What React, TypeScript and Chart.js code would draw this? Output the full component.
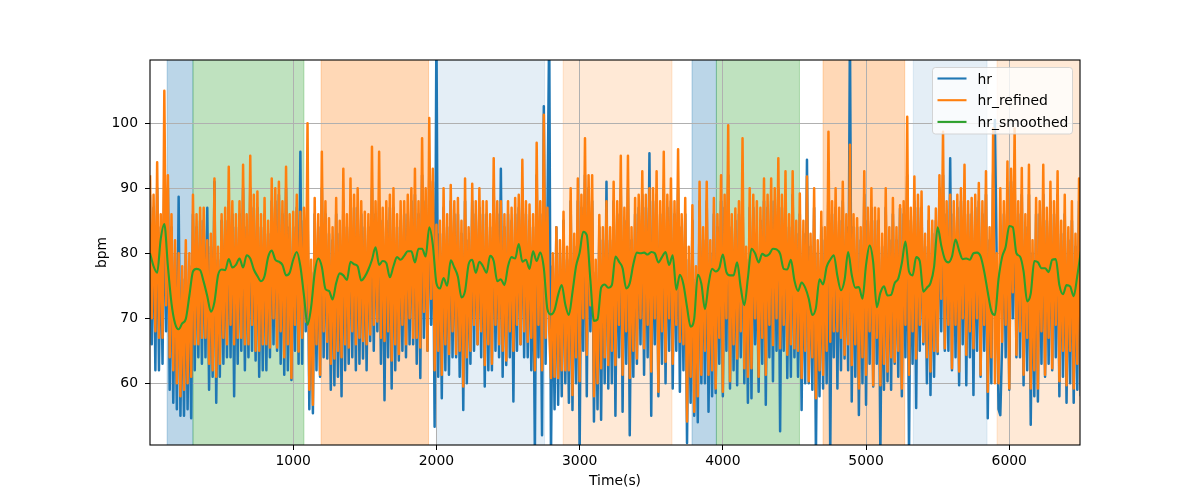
import React, { useEffect, useRef } from "react";
import { Chart, registerables } from "chart.js";

Chart.register(...registerables);

// Sampling intervals (seconds)
const SAMPLE_STEP_S = 12.5;
const SMOOTH_STEP_S = 25;

// hr (raw), bpm, one value every 12.5 s starting at t = 0
const hr = [
  89, 66, 87, 62, 90, 62, 84, 63,
  92, 68, 90, 59, 84, 57, 80, 56,
  88.7, 55, 76, 55, 80, 56, 78, 54.6,
  86, 62, 84, 64, 85, 63, 85, 64,
  87, 59, 81, 61, 91, 57, 79, 61,
  85, 63, 85, 64, 88, 64, 86, 58,
  84, 63, 86, 65, 90, 62, 84, 64,
  90, 65, 87, 63.5, 87, 61, 84, 62,
  86, 62, 83, 64, 88, 66, 88, 65,
  89, 63, 86, 61.3, 90, 62, 84, 60.5,
  84, 65, 87, 63, 95.6, 63, 85, 68,
  88, 56, 77, 55.4, 86, 62, 84, 61,
  90, 64, 86, 63.8, 83, 59, 82, 59.7,
  86, 61, 83, 58, 88, 62, 84, 63,
  88, 64, 87, 62, 87, 63, 86, 63.8,
  84, 62, 84, 66.5, 90, 65, 86, 68,
  88, 63, 85, 57.4, 85, 64, 87, 59.2,
  87, 62, 84, 63.5, 85, 65, 86, 64,
  86, 66, 88, 66, 89, 63, 86, 60.8,
  92, 67, 88, 65, 92, 69, 91, 53.3,
  115, 61, 83, 57.7, 87, 62, 84, 61.3,
  88, 64, 86, 64, 86, 61, 83, 55.9,
  88, 60, 82, 63, 88, 65, 86, 66,
  87, 64, 86, 59.5, 86, 62, 84, 62,
  90, 65, 86, 64, 93, 61, 84, 62.8,
  86, 64, 85, 57.2, 86, 65, 87, 66,
  90, 64, 86, 64, 85, 62, 84, 49,
  92, 64, 86, 52, 102.6, 63, 85, 115,
  49, 78, 56, 84, 56.7, 80, 58, 85,
  60, 79, 57, 88, 55.9, 81, 60, 88,
  49, 87, 65, 92, 58, 90, 68, 88,
  54.1, 77, 56, 84, 54.4, 82, 60, 91,
  59.2, 82, 60, 88, 55, 86, 64, 90,
  55.6, 85, 63, 90, 52, 82, 61, 86,
  63, 87, 66, 89, 61.3, 87, 64, 95.4,
  55, 88, 66, 89, 58, 86, 63, 90,
  60, 87, 65, 88, 59.2, 86, 65, 90,
  58.7, 84, 62, 86, 50.8, 79, 57, 85,
  55, 76, 54, 88, 60, 82, 60, 88,
  55.6, 80, 58, 86, 58.5, 84, 63, 88,
  58, 87, 65, 92, 59.2, 84, 62, 85,
  59.7, 86, 64, 90, 60, 79, 57, 87,
  57.7, 87, 66, 80, 58.7, 85, 63, 88,
  56.7, 87, 64, 88, 60.3, 88, 65, 90,
  52.6, 87, 65, 89, 60.8, 84, 61, 89,
  64, 83, 61, 86, 55.9, 83, 60, 94.4,
  60, 81, 59, 87, 49, 80, 58, 84,
  59.2, 82, 60, 92, 49, 86, 64, 87,
  59.2, 85, 62, 88, 63.8, 84, 62, 115,
  57.2, 84, 61, 84, 55.1, 82, 60, 89,
  56.7, 85, 63, 87, 59.5, 85, 63, 85,
  49, 81, 59, 87, 60.3, 82, 59, 86,
  63, 82, 61, 86.9, 58, 86, 64, 92,
  49, 85, 63, 88, 56.2, 87, 65, 87,
  66, 81, 60, 85, 58.2, 83, 61, 85,
  64.5, 90, 68, 92, 65, 86, 65, 94.6,
  62, 86, 64, 87, 59.7, 88, 66, 89,
  59.7, 86, 64, 86, 58.2, 87, 65, 88,
  61, 86, 65, 89, 54.6, 82, 60, 92,
  100.5, 78, 56, 55.1, 66, 86, 64, 90,
  59, 91, 70, 92, 64, 86, 64, 89,
  59.7, 84, 62, 89, 53.6, 80, 58, 86,
  57.2, 86, 63, 89, 61, 85, 63, 88,
  62, 86, 64, 89, 58, 83, 61, 86,
  57, 82, 60, 85, 57, 81, 59, 88,
  58,
];

// hr_refined, bpm, same time grid as hr
const hrRefined = [
  92, 70, 89, 68, 94, 67, 86, 67,
  105, 72, 92, 64, 86, 62, 82, 60,
  80, 58, 78, 59, 82, 60, 80, 61,
  89, 66, 86, 66, 87, 67, 87, 67,
  82, 63, 83, 62, 91.5, 61, 81, 63,
  86, 67, 87, 66, 93.3, 69, 88, 66,
  86, 67, 88, 67, 93.6, 66, 86, 66,
  95, 69, 89, 65, 89.5, 65, 86, 66,
  88.5, 66, 85, 65.5, 91.5, 70, 90, 65.5,
  91, 68, 88, 64, 93.3, 66, 86, 60.8,
  86.4, 69, 89, 64.9, 86.4, 67, 87, 69.5,
  100, 59, 79, 56.7, 88.5, 66, 86, 61.3,
  95.6, 68, 88, 66.4, 85.4, 63, 84, 63.8,
  88.5, 65, 85, 64, 93, 66, 86, 65.5,
  91.5, 68, 89, 66, 90, 67, 88, 66.5,
  86.4, 66, 86, 67.5, 96.4, 69, 88, 69.5,
  95.6, 67, 87, 66.5, 88, 68, 89, 63.5,
  90, 66, 86, 64.5, 88, 69, 88, 66,
  89, 70, 90, 67, 93, 67, 88, 65.5,
  97.7, 71, 90, 65, 100.8, 73, 93, 62,
  84.4, 65, 85, 61.3, 90, 66, 86, 64.5,
  90.5, 68, 88, 64.5, 88.5, 65, 85, 59.5,
  91.5, 64, 84, 65, 90.7, 69, 88, 66,
  90, 68, 88, 62.8, 88, 66, 86, 63,
  94.6, 69, 88, 66, 88, 65, 86, 63.5,
  88, 68, 87, 65, 88.5, 69, 89, 66,
  94.4, 68, 88, 66.4, 87.5, 67, 86, 62,
  97, 69, 88, 62, 101.3, 67, 87, 68,
  60.8, 80, 61, 84, 60.8, 82, 62, 86.4,
  62, 81, 62, 90, 58.2, 83, 64, 91.5,
  60.3, 89, 70, 97.7, 64.4, 92, 72, 92,
  58, 79, 60, 85.9, 62.3, 84, 64, 88,
  62.8, 84, 65, 91, 62.8, 88, 69, 95,
  61.3, 87, 68, 95, 60.8, 84, 65, 88.5,
  63.8, 89, 70, 92.6, 65.4, 89, 69, 90,
  61.8, 90, 70, 92.6, 58.7, 88, 68, 95.6,
  63.3, 89, 70, 91.5, 63, 88, 69, 96,
  66.4, 86, 66, 88.5, 54.1, 81, 61, 87.4,
  55.6, 78, 58, 91, 61.3, 84, 65, 91,
  61.3, 82, 62, 88.5, 59.2, 86, 67, 92,
  58.7, 89, 70, 99.7, 60.3, 86, 66, 86.9,
  63.8, 88, 68, 97.7, 62.3, 81, 61, 90,
  62.3, 89, 70, 88, 61, 87, 67, 91.5,
  61.3, 89, 69, 91.5, 65.9, 90, 70, 94.6,
  65.4, 89, 69, 92.6, 64.4, 86, 66, 92.6,
  65.4, 85, 65, 89.2, 60.8, 85, 65, 91.8,
  60.3, 83, 64, 90, 57.7, 82, 62, 86.4,
  61.3, 84, 65, 98.7, 66.4, 88, 68, 90,
  68, 87, 67, 91, 64.4, 86, 66, 96.7,
  62.8, 86, 66, 85.4, 59.2, 84, 64, 92.6,
  61.3, 87, 68, 90, 59.7, 87, 67, 86.9,
  59.7, 83, 63, 90, 61.8, 84, 64, 88.5,
  63.3, 84, 65, 87.4, 59.2, 88, 69, 101,
  61.3, 87, 68, 91.8, 63.8, 89, 69, 89.5,
  66.4, 83, 64, 87.2, 61.8, 85, 65, 86.9,
  64.9, 92, 73, 98.7, 65.4, 88, 69, 89,
  62.3, 88, 69, 89, 61.8, 90, 70, 93.6,
  64.4, 88, 68, 88.5, 65.4, 89, 70, 90.8,
  61.3, 88, 69, 92.6, 58.7, 84, 64, 99.2,
  60, 80, 60, 90, 66.4, 88, 69, 94.1,
  59.2, 93, 74, 99.2, 64.4, 88, 68, 93.1,
  61.3, 86, 67, 93.6, 59.2, 82, 62, 88.5,
  59.2, 88, 68, 93.6, 61.3, 87, 67, 91,
  62.3, 88, 69, 92.6, 60.3, 85, 65, 89,
  59.7, 84, 65, 88, 59.2, 83, 63, 91.5,
  59.7,
];

// hr_smoothed, bpm, one value every 25 s starting at t = 0
const hrSmoothed = [
  80, 78, 77, 82.2, 84.5, 78, 72.3, 69.2, 68.3, 69.2,
  69.9, 73.5, 77.2, 77.6, 77.4, 75.6, 73.4, 71, 72.5, 76.6,
  77.5, 77.4, 79.1, 77.8, 78.2, 79.2, 77.8, 79.7, 79.2, 77.5,
  76.5, 75.7, 76.5, 79.4, 80.4, 79, 78.7, 78.2, 76.6, 77,
  79, 80.2, 78, 73.5, 69, 71.7, 77, 79.2, 77.9, 74.5,
  74.2, 72.9, 75.4, 76.9, 76.6, 75.9, 78.7, 78.3, 78, 75.8,
  76.4, 77.5, 79, 80.9, 78.2, 78.8, 78.5, 76.3, 78, 79.4,
  79, 79.6, 80.3, 80.3, 78.6, 80.7, 80.7, 79.5, 84, 81.3,
  75.4, 74.6, 76.2, 75, 78.9, 77.8, 76.4, 73.2, 74.2, 78.3,
  79, 77, 78.7, 78, 77, 79.6, 78.8, 75.7, 76, 75.1,
  78, 79.4, 79.2, 81.4, 78.7, 79, 77.6, 80.3, 78.8, 80.1,
  77.7, 71.4, 70.6, 71.3, 73.6, 75.1, 72.1, 70.5, 74, 78,
  80.1, 83.3, 82.8, 75.9, 69.6, 69.8, 74.7, 75.2, 74.7, 75.1,
  79.5, 78.7, 77.7, 74.6, 75.4, 78.3, 80.1, 80, 80.1, 79.8,
  80.2, 80, 78.6, 79.4, 80.2, 78.2, 79.7, 74.4, 76.7, 75.2,
  71.7, 68.7, 69.9, 76.7, 75.3, 71.4, 75.2, 77.6, 77.2, 77.7,
  79.8, 77.1, 76.6, 76.6, 78.6, 74.7, 72, 76.2, 80.7, 80,
  78.6, 79.9, 79.6, 79.9, 80.7, 80.6, 79.9, 77.6, 77.5, 79,
  75.8, 74.2, 75.5, 74.7, 73, 70.5, 71.6, 76, 75.2, 77.9,
  79, 79.7, 76.5, 74.3, 75.9, 80.2, 76.7, 74.7, 74.8, 73,
  78.2, 81.2, 78.6, 71.7, 73.9, 74.9, 73.5, 73.6, 75.4, 76.1,
  78.5, 81.8, 77.2, 76.6, 79.4, 78.8, 74.1, 74.7, 75.4, 77.9,
  84, 81.2, 79.1, 78.6, 79.5, 82.1, 80.4, 79.1, 79.2, 79,
  80, 80.1, 79.5, 77.2, 74, 71.1, 70.5, 76, 79.4, 81,
  84.2, 84, 80, 79.5, 77.2, 72.6, 73.8, 78.8, 78.6, 77.7,
  77.7, 77.1, 79, 79.1, 75.1, 73.7, 75.1, 74.9, 73.4, 76.5,
  80.3,
];

// Activity segments (seconds) shaded behind the lines
const spanStarts = [120, 300, 1195, 2000, 2885, 3785, 3955, 4700, 5330, 5915];
const spanEnds = [300, 1075, 1945, 2755, 3645, 3955, 4535, 5270, 5845, 6500];
const spanColors = [
  "rgba(31,119,180,0.3)",
  "rgba(44,160,44,0.3)",
  "rgba(255,127,14,0.3)",
  "rgba(31,119,180,0.12)",
  "rgba(255,127,14,0.17)",
  "rgba(31,119,180,0.3)",
  "rgba(44,160,44,0.3)",
  "rgba(255,127,14,0.3)",
  "rgba(31,119,180,0.12)",
  "rgba(255,127,14,0.17)",
];

const xTicks = [1000, 2000, 3000, 4000, 5000, 6000];
const yTicks = [60, 70, 80, 90, 100];
const X_MIN = 0;
const X_MAX = 6494;
const Y_MIN = 50.5;
const Y_MAX = 109.73;

const seriesNames = ["hr", "hr_refined", "hr_smoothed"];
const seriesColors = ["#1f77b4", "#ff7f0e", "#2ca02c"];

const FONT = '"DejaVu Sans", sans-serif';
const FONT_PX = 13.9;

const spanPlugin = {
  id: "spans",
  beforeDraw(chart: any) {
    const { ctx, chartArea: a } = chart;
    const xs = chart.scales.x;
    ctx.save();
    ctx.beginPath();
    ctx.rect(a.left, a.top, a.right - a.left, a.bottom - a.top);
    ctx.clip();
    for (let k = 0; k < spanStarts.length; k++) {
      const x1 = xs.getPixelForValue(spanStarts[k]);
      const x2 = xs.getPixelForValue(spanEnds[k]);
      ctx.fillStyle = spanColors[k];
      ctx.fillRect(x1, a.top, x2 - x1, a.bottom - a.top);
      ctx.strokeStyle = spanColors[k];
      ctx.lineWidth = 1;
      ctx.beginPath();
      ctx.moveTo(x1, a.top);
      ctx.lineTo(x1, a.bottom);
      ctx.moveTo(x2, a.top);
      ctx.lineTo(x2, a.bottom);
      ctx.stroke();
    }
    ctx.restore();
  },
};

const decorPlugin = {
  id: "decor",
  afterDraw(chart: any) {
    const { ctx, chartArea: a } = chart;
    ctx.save();
    ctx.strokeStyle = "#000";
    ctx.lineWidth = 1.1;
    ctx.strokeRect(a.left, a.top, a.right - a.left, a.bottom - a.top);

    ctx.fillStyle = "#000";
    ctx.font = `${FONT_PX}px ${FONT}`;
    ctx.textAlign = "center";
    ctx.textBaseline = "alphabetic";
    ctx.fillText("Time(s)", (a.left + a.right) / 2, 485);
    ctx.save();
    ctx.translate(106, (a.top + a.bottom) / 2);
    ctx.rotate(-Math.PI / 2);
    ctx.fillText("bpm", 0, 0);
    ctx.restore();

    const lx = 932.5;
    const ly = 67.5;
    const lw = 140;
    const lh = 66.5;
    const r = 3;
    ctx.beginPath();
    ctx.moveTo(lx + r, ly);
    ctx.lineTo(lx + lw - r, ly);
    ctx.quadraticCurveTo(lx + lw, ly, lx + lw, ly + r);
    ctx.lineTo(lx + lw, ly + lh - r);
    ctx.quadraticCurveTo(lx + lw, ly + lh, lx + lw - r, ly + lh);
    ctx.lineTo(lx + r, ly + lh);
    ctx.quadraticCurveTo(lx, ly + lh, lx, ly + lh - r);
    ctx.lineTo(lx, ly + r);
    ctx.quadraticCurveTo(lx, ly, lx + r, ly);
    ctx.closePath();
    ctx.fillStyle = "rgba(255,255,255,0.8)";
    ctx.fill();
    ctx.strokeStyle = "rgba(204,204,204,0.8)";
    ctx.lineWidth = 1;
    ctx.stroke();

    ctx.textAlign = "left";
    for (let k = 0; k < seriesNames.length; k++) {
      const yy = 78.5 + k * 21.7;
      ctx.strokeStyle = seriesColors[k];
      ctx.lineWidth = 2.1;
      ctx.beginPath();
      ctx.moveTo(937.5, yy);
      ctx.lineTo(966.5, yy);
      ctx.stroke();
      ctx.fillStyle = "#000";
      ctx.fillText(seriesNames[k], 977.5, yy + 5.2);
    }
    ctx.restore();
  },
};

export default function App() {
  const canvasRef = useRef<HTMLCanvasElement | null>(null);

  useEffect(() => {
    const canvas = canvasRef.current;
    if (!canvas) return;
    const hrData = hr.map((v, i) => ({ x: i * SAMPLE_STEP_S, y: v }));
    const refinedData = hrRefined.map((v, i) => ({ x: i * SAMPLE_STEP_S, y: v }));
    const smoothData = hrSmoothed.map((v, i) => ({ x: i * SMOOTH_STEP_S, y: v }));

    const tickFont = { family: FONT, size: FONT_PX };
    const lineCommon = {
      pointRadius: 0,
      borderJoinStyle: "round",
      borderCapStyle: "butt",
      clip: 0,
    };

    const chart = new Chart(canvas, {
      type: "line",
      data: {
        datasets: [
          {
            ...lineCommon,
            label: seriesNames[0],
            data: hrData,
            borderColor: seriesColors[0],
            backgroundColor: seriesColors[0],
            borderWidth: 2.5,
            tension: 0,
            order: 3,
          },
          {
            ...lineCommon,
            label: seriesNames[1],
            data: refinedData,
            borderColor: seriesColors[1],
            backgroundColor: seriesColors[1],
            borderWidth: 2.5,
            tension: 0,
            order: 2,
          },
          {
            ...lineCommon,
            label: seriesNames[2],
            data: smoothData,
            borderColor: seriesColors[2],
            backgroundColor: seriesColors[2],
            borderWidth: 2.1,
            cubicInterpolationMode: "monotone",
            order: 1,
          },
        ],
      },
      options: {
        responsive: false,
        animation: false,
        devicePixelRatio: 1,
        layout: { padding: { left: 0, right: 120, top: 60, bottom: 0 } },
        plugins: {
          legend: { display: false },
          tooltip: { enabled: false },
        },
        scales: {
          x: {
            type: "linear",
            min: X_MIN,
            max: X_MAX,
            afterBuildTicks: (s: any) => {
              s.ticks = xTicks.map((v) => ({ value: v }));
            },
            afterFit: (s: any) => {
              s.height = 55;
            },
            border: { display: false },
            grid: {
              color: "#b0b0b0",
              lineWidth: 1,
              tickColor: "#000",
              tickLength: 5,
              drawTicks: true,
            },
            ticks: {
              color: "#000",
              font: tickFont,
              padding: 3,
              maxRotation: 0,
              autoSkip: false,
              callback: (v: any) => String(v),
            },
          },
          y: {
            type: "linear",
            min: Y_MIN,
            max: Y_MAX,
            afterBuildTicks: (s: any) => {
              s.ticks = yTicks.map((v) => ({ value: v }));
            },
            afterFit: (s: any) => {
              s.width = 150;
            },
            border: { display: false },
            grid: {
              color: "#b0b0b0",
              lineWidth: 1,
              tickColor: "#000",
              tickLength: 5,
              drawTicks: true,
            },
            ticks: {
              color: "#000",
              font: tickFont,
              padding: 7,
              autoSkip: false,
              callback: (v: any) => String(v),
            },
          },
        },
      },
      plugins: [spanPlugin, decorPlugin],
    } as any);

    return () => {
      chart.destroy();
    };
  }, []);

  return (
    <div style={{ position: "absolute", left: 0, top: 0, width: 1200, height: 500, background: "#fff" }}>
      <canvas ref={canvasRef} width={1200} height={500} />
    </div>
  );
}
